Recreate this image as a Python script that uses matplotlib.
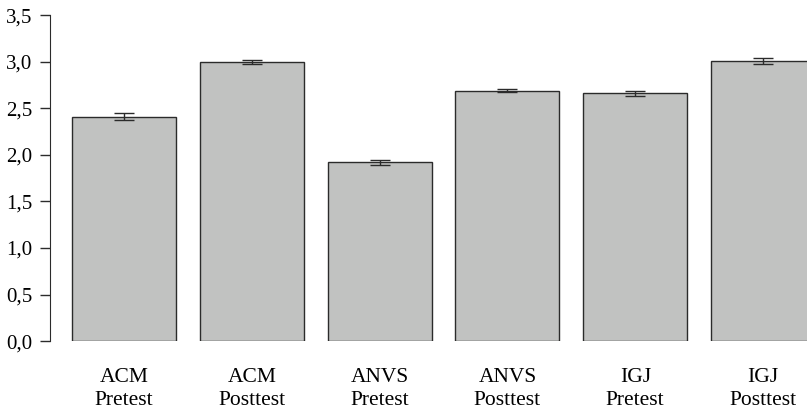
import matplotlib
matplotlib.use("Agg")
import matplotlib.pyplot as plt

# group means and their standard errors
groups = ["ACM\nPretest", "ACM\nPosttest", "ANVS\nPretest",
          "ANVS\nPosttest", "IGJ\nPretest", "IGJ\nPosttest"]
means = [2.41, 3.00, 1.92, 2.69, 2.66, 3.01]
errors = [0.035, 0.02, 0.025, 0.02, 0.025, 0.03]
yticks = [0.0, 0.5, 1.0, 1.5, 2.0, 2.5, 3.0, 3.5]

plt.rcParams["font.family"] = ["Liberation Serif", "DejaVu Serif"]

fig = plt.figure(figsize=(8.07, 4.11), dpi=100)
ax = fig.add_axes([0.062, 0.170, 0.938, 0.793])

x = list(range(len(groups)))
ax.bar(x, means, width=0.814, color="#c1c2c1", edgecolor="#2b2b2b",
       linewidth=1.0, yerr=errors, capsize=7,
       error_kw=dict(ecolor="#2b2b2b", elinewidth=1.0, capthick=1.0))

ax.set_xlim(-0.579, 5.344)
ax.set_ylim(0, 3.5)
ax.set_yticks(yticks)
ax.set_yticklabels([f"{v:.1f}".replace(".", ",") for v in yticks], fontsize=15)
ax.set_xticks(x)
ax.set_xticklabels(groups, fontsize=15.5, linespacing=1.35)

for side in ["top", "right", "bottom"]:
    ax.spines[side].set_visible(False)
ax.spines["left"].set_color("#2b2b2b")
ax.tick_params(axis="y", length=7.5, width=1.0, color="#2b2b2b", pad=5)
ax.tick_params(axis="x", length=0, pad=19)

fig.savefig("out.png", dpi=100)
